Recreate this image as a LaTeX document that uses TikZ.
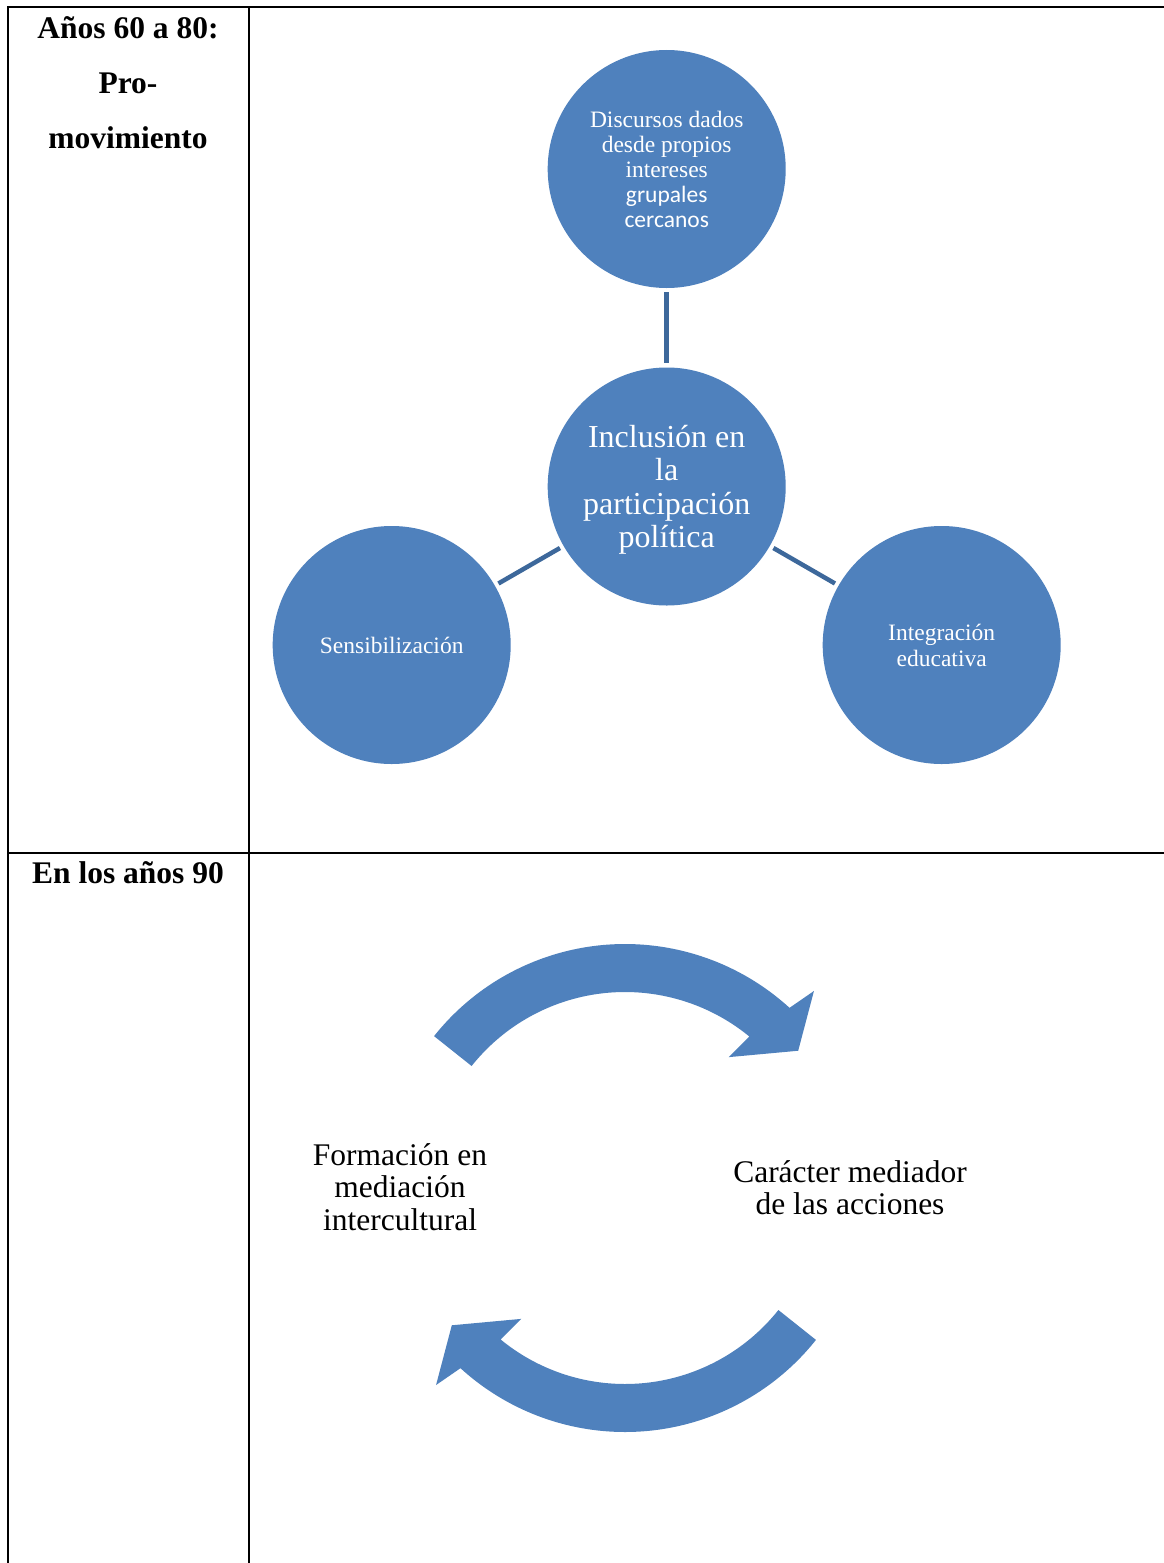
\documentclass[tikz,border=0pt]{standalone}
\usepackage{fontspec}
\setmainfont{Liberation Serif}
\newfontfamily\carlito{Carlito}
\usetikzlibrary{calc}
\definecolor{accent}{RGB}{79,129,189}
\definecolor{linkblue}{RGB}{61,104,155}
\begin{document}
\begin{tikzpicture}[x=1pt,y=1pt,
  bubble/.style={circle, fill=accent, draw=none, minimum size=238pt, inner sep=0pt, text=white, align=center},
  link/.style={draw=linkblue, line width=4.5pt, shorten <=4pt, shorten >=4pt},
  rule/.style={line width=1.8pt, black},
  head/.style={font=\bfseries\fontsize{31.5}{55}\selectfont, align=center, inner sep=0pt},
  body/.style={font=\fontsize{31.5}{32.5}\selectfont, align=center, inner sep=0pt},
  cyc/.style={fill=accent, draw=none}]
\useasboundingbox (0,0) rectangle (1164,-1563);
\fill[white] (0,0) rectangle (1164,-1563);
% table rules
\draw[rule] (8,-1563) -- (8,-7) -- (1164,-7);
\draw[rule] (249,-7) -- (249,-1563);
\draw[rule] (8,-853) -- (1164,-853);
% left column
\node[head] (h1) at (128,-83) {Años 60 a 80:\\Pro-\\movimiento};
\node[head, anchor=base] (h2) at (128,-883) {En los años 90};
% circles
\node[bubble, font=\fontsize{23.5}{25}\selectfont] (top) at (666.7,-169)
  {Discursos dados\\desde propios\\intereses\\{\carlito grupales}\\{\carlito cercanos}};
\node[bubble, font=\fontsize{32}{33.3}\selectfont] (mid) at (666.7,-486.5)
  {\rule{0pt}{29pt}Inclusión en\\la\\participación\\política};
\node[bubble, font=\fontsize{23.5}{26}\selectfont] (left) at (391.7,-645) {Sensibilización};
\node[bubble, font=\fontsize{23.5}{26}\selectfont] (right) at (941.7,-645) {Integración\\educativa};
\draw[link] (top) -- (mid);
\draw[link] (mid) -- (left);
\draw[link] (mid) -- (right);
% cycle arrows
\coordinate (cc) at (625,-1188);
\begin{scope}[shift={(cc)}]
  \fill[cyc] (141.5:244) arc[start angle=141.5, end angle=47.6, radius=244]
    -- (46.2:273) -- (38.4:221) -- (51.6:167) -- (50.6:196)
    arc[start angle=50.6, end angle=141.5, radius=196] -- cycle;
\end{scope}
\begin{scope}[shift={(cc)}, rotate=180]
  \fill[cyc] (141.5:244) arc[start angle=141.5, end angle=47.6, radius=244]
    -- (46.2:273) -- (38.4:221) -- (51.6:167) -- (50.6:196)
    arc[start angle=50.6, end angle=141.5, radius=196] -- cycle;
\end{scope}
\node[body] (form) at (400,-1187) {Formación en\\mediación\\intercultural};
\node[body] (car) at (850,-1187.5) {Carácter mediador\\de las acciones};
\end{tikzpicture}
\end{document}
